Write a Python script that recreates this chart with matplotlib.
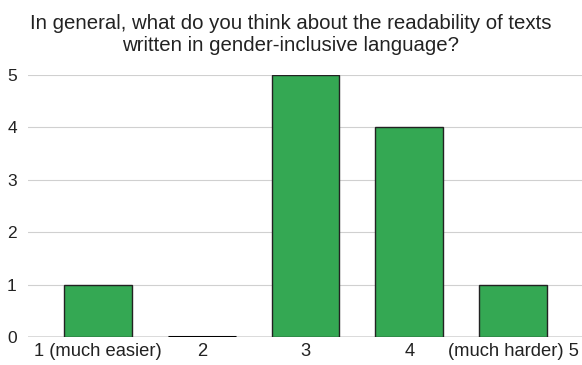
import matplotlib.pyplot as plt

plt.rcParams['font.family'] = ['Liberation Sans', 'DejaVu Sans']

labels = ["1 (much easier)", "2", "3", "4", "(much harder) 5"]
counts = [1, 0, 5, 4, 1]

fig = plt.figure(figsize=(5.82, 3.65), dpi=100)
ax = fig.add_axes([0.048, 0.0767, 0.952, 0.7178])

x = range(len(counts))
ax.bar(x, counts, width=0.655, color="#34a853", edgecolor="#222222", linewidth=1, zorder=3)
# zero-count bar is drawn as a thin dark line
for i, c in enumerate(counts):
    if c == 0:
        ax.plot([i - 0.3275, i + 0.3275], [0, 0], color="black", linewidth=2.2, zorder=4,
                solid_capstyle="butt")

ax.set_xlim(-0.675, 4.665)
ax.set_ylim(0, 5)
ax.set_yticks(range(6))
ax.set_xticks(list(x))
ax.set_xticklabels(labels)
ax.grid(axis="y", color="#d0d0d0", linewidth=0.8, zorder=0)
ax.axhline(0, color="#555555", linewidth=1, zorder=2)
for s in ax.spines.values():
    s.set_visible(False)
ax.tick_params(length=0, labelsize=13.2, colors="#222222")
ax.tick_params(axis="y", pad=8, labelsize=12.5)
ax.tick_params(axis="x", pad=4)
for t in ax.get_yticklabels():
    t.set_clip_on(False)

fig.text(0.5, 0.962, "In general, what do you think about the readability of texts\nwritten in gender-inclusive language?",
         ha="center", va="top", fontsize=14.7, color="#222222", linespacing=1.2)

fig.savefig("out.png")
